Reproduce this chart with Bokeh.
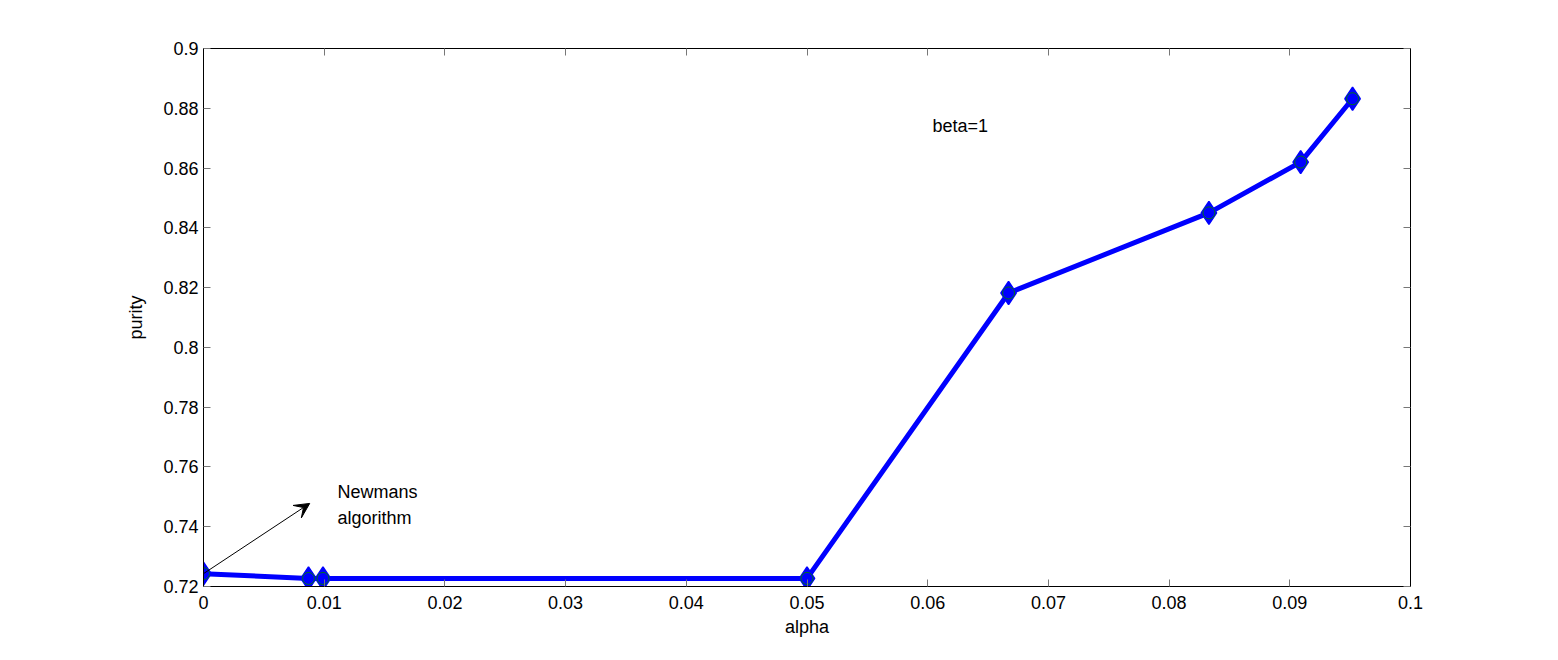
from bokeh.plotting import figure
from bokeh.models import Range1d, LinearAxis, FixedTicker, Arrow, VeeHead, Label
from bokeh.embed import file_html
from bokeh.resources import INLINE

alpha = [0.0, 0.0087, 0.0099, 0.05, 0.0667, 0.0833, 0.0909, 0.0952]
purity = [0.7243, 0.7227, 0.7227, 0.7227, 0.8182, 0.8450, 0.8620, 0.8832]
x_ticks = [0, 0.01, 0.02, 0.03, 0.04, 0.05, 0.06, 0.07, 0.08, 0.09, 0.1]
y_ticks = [0.72, 0.74, 0.76, 0.78, 0.8, 0.82, 0.84, 0.86, 0.88, 0.9]
x_labels = {0: "0", 0.01: "0.01", 0.02: "0.02", 0.03: "0.03", 0.04: "0.04", 0.05: "0.05",
            0.06: "0.06", 0.07: "0.07", 0.08: "0.08", 0.09: "0.09", 0.1: "0.1"}
y_labels = {0.72: "0.72", 0.74: "0.74", 0.76: "0.76", 0.78: "0.78", 0.8: "0.8", 0.82: "0.82",
            0.84: "0.84", 0.86: "0.86", 0.88: "0.88", 0.9: "0.9"}
arrow_start = (0.0, 0.7243)
arrow_end = (0.0088, 0.7478)
note_text = "Newmans\nalgorithm"
note_pos = (0.0111, 0.7472)
beta_text = "beta=1"
beta_pos = (0.0604, 0.8742)

FONT = "Liberation Sans"
FS = "18px"

p = figure(width=1542, height=644, output_backend="svg", toolbar_location=None,
           x_range=Range1d(0, 0.1), y_range=Range1d(0.72, 0.9),
           min_border_left=203, min_border_right=132, min_border_top=48, min_border_bottom=58)
p.xgrid.visible = False
p.ygrid.visible = False
p.outline_line_color = "black"
p.outline_line_width = 1
p.background_fill_color = "white"
p.border_fill_color = "white"

for ax in (p.xaxis[0], p.yaxis[0]):
    ax.major_tick_in = 7
    ax.major_tick_out = 0
    ax.minor_tick_in = 0
    ax.minor_tick_out = 0
    ax.major_tick_line_color = "#777777"
    ax.axis_line_color = "black"
    ax.major_label_text_font = FONT
    ax.major_label_text_font_size = FS
    ax.major_label_text_color = "black"
    ax.axis_label_text_font = FONT
    ax.axis_label_text_font_size = FS
    ax.axis_label_text_font_style = "normal"
    ax.axis_label_text_color = "black"

p.xaxis[0].ticker = FixedTicker(ticks=x_ticks)
p.xaxis[0].major_label_overrides = x_labels
p.xaxis[0].axis_label = "alpha"
p.xaxis[0].axis_label_standoff = 5
p.xaxis[0].major_label_standoff = 9
p.yaxis[0].ticker = FixedTicker(ticks=y_ticks)
p.yaxis[0].major_label_overrides = y_labels
p.yaxis[0].axis_label = "purity"
p.yaxis[0].axis_label_standoff = 14
p.yaxis[0].major_label_standoff = 5

right = LinearAxis(ticker=FixedTicker(ticks=y_ticks), major_label_text_font_size="0px",
                   major_tick_in=7, major_tick_out=0, minor_tick_in=0, minor_tick_out=0,
                   major_tick_line_color="#777777", axis_line_color="black")
top = LinearAxis(ticker=FixedTicker(ticks=x_ticks), major_label_text_font_size="0px",
                 major_tick_in=7, major_tick_out=0, minor_tick_in=0, minor_tick_out=0,
                 major_tick_line_color="#777777", axis_line_color="black")
p.add_layout(right, "right")
p.add_layout(top, "above")

p.line(alpha, purity, line_color="#0000ff", line_width=5)
p.scatter(alpha, purity, marker="diamond", size=23, fill_color="#0000ff",
          line_color="#0000ff", line_width=1.5)
p.scatter(alpha, purity, marker="circle", size=12, fill_color="#0000ff",
          line_color="#008000", line_width=0.9)

p.add_layout(Arrow(end=VeeHead(size=15, fill_color="black", line_color="black", line_width=1),
                   x_start=arrow_start[0], y_start=arrow_start[1],
                   x_end=arrow_end[0], y_end=arrow_end[1],
                   line_color="black", line_width=1))
p.add_layout(Label(x=note_pos[0], y=note_pos[1], text=note_text, text_font=FONT,
                   text_font_size=FS, text_color="black", text_baseline="middle",
                   text_line_height=1.3))
p.add_layout(Label(x=beta_pos[0], y=beta_pos[1], text=beta_text, text_font=FONT,
                   text_font_size=FS, text_color="black", text_baseline="middle"))

open("out.html", "w").write(file_html(p, INLINE))
